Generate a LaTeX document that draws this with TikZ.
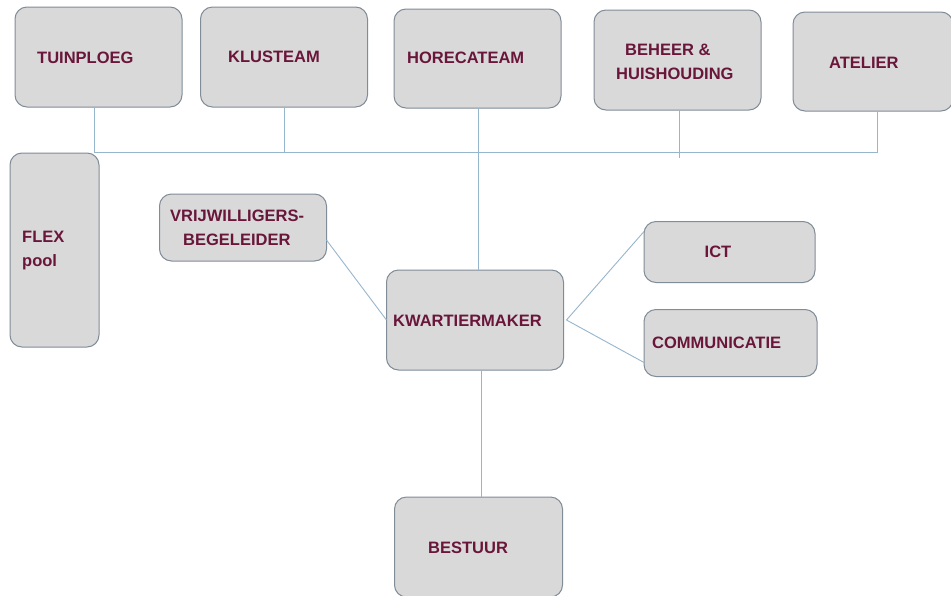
\documentclass[tikz,border=0pt]{standalone}
\usepackage{fontspec}
\setmainfont{Liberation Sans}
\definecolor{boxfill}{RGB}{217,217,217}
\definecolor{boxline}{RGB}{128,140,152}
\definecolor{conncol}{RGB}{150,182,206}
\definecolor{txtcol}{RGB}{105,22,58}
\begin{document}
\begin{tikzpicture}[x=1pt,y=-1pt,
  box/.style={draw=boxline, fill=boxfill, rounded corners=12pt, line width=1pt, inner sep=0pt, outer sep=0pt},
  lbl/.style={text=txtcol, font=\bfseries\fontsize{16.5}{24}\selectfont, anchor=west, inner sep=0pt, align=left},
  conn/.style={draw=conncol, line width=0.9pt}]
\useasboundingbox[fill=white] (0,0) rectangle (951,595);

% boxes (centre x = (l+r)/2, centre y = (t+b)/2)
\node[box, minimum width=167pt, minimum height=100pt] (tuin) at (98.5,57) {};
\node[box, minimum width=167pt, minimum height=100pt] (klus) at (284,57) {};
\node[box, minimum width=167pt, minimum height=99pt]  (hor)  at (477.5,58.5) {};
\node[box, minimum width=167pt, minimum height=100pt] (beh)  at (677.5,60) {};
\node[box, minimum width=160pt, minimum height=99pt]  (atel) at (873,61.5) {};
\node[box, minimum width=89pt,  minimum height=194pt] (flex) at (54.5,250) {};
\node[box, minimum width=167pt, minimum height=67pt]  (vrij) at (243,227.5) {};
\node[box, minimum width=177pt, minimum height=100pt] (kw)   at (475,320) {};
\node[box, minimum width=171pt, minimum height=61pt]  (ict)  at (729.5,252) {};
\node[box, minimum width=173pt, minimum height=67pt]  (comm) at (730.5,343) {};
\node[box, minimum width=168pt, minimum height=100pt] (best) at (478.5,547) {};

% labels
\node[lbl] (ttuin) at (37,58) {TUINPLOEG};
\node[lbl] (tklus) at (228,57) {KLUSTEAM};
\node[lbl] (thor)  at (407,58) {HORECATEAM};
\node[lbl] (tbeh)  at (616,61.5) {\hspace*{9pt}BEHEER \&\\HUISHOUDING};
\node[lbl] (tatel) at (829,63) {ATELIER};
\node[lbl] (tflex) at (22,251) {FLEX\\pool};
\node[lbl] (tvrij) at (170,228) {VRIJWILLIGERS-\\\hspace*{13pt}BEGELEIDER};
\node[lbl] (tkw)   at (393,321) {KWARTIERMAKER};
\node[lbl, anchor=center] (tict) at (718,252) {ICT};
\node[lbl] (tcomm) at (652,343) {COMMUNICATIE};
\node[lbl] (tbest) at (428,548) {BESTUUR};

% connectors
\coordinate (h1) at (94,152);
\coordinate (h2) at (284,152);
\coordinate (h3) at (478,152);
\coordinate (h4) at (679,158);
\coordinate (h5) at (877,152);
\coordinate (b1) at (481,440);
\draw[conn] (tuin.south -| h1) -- (h1) -- (h5) -- (atel.south -| h5);
\draw[conn] (klus.south -| h2) -- (h2);
\draw[conn] (hor.south -| h3) -- (kw.north -| h3);
\draw[conn] (beh.south -| h4) -- (h4);
\draw[conn] ([yshift=-12.5pt]vrij.east) -- (kw.west);
\draw[conn] ([xshift=3pt]kw.east) -- ([yshift=-10pt]ict.north west);
\draw[conn] ([xshift=3pt]kw.east) -- ([yshift=14pt]comm.south west);
\draw[conn] (kw.south -| b1) -- (best.north -| b1);
\end{tikzpicture}
\end{document}
